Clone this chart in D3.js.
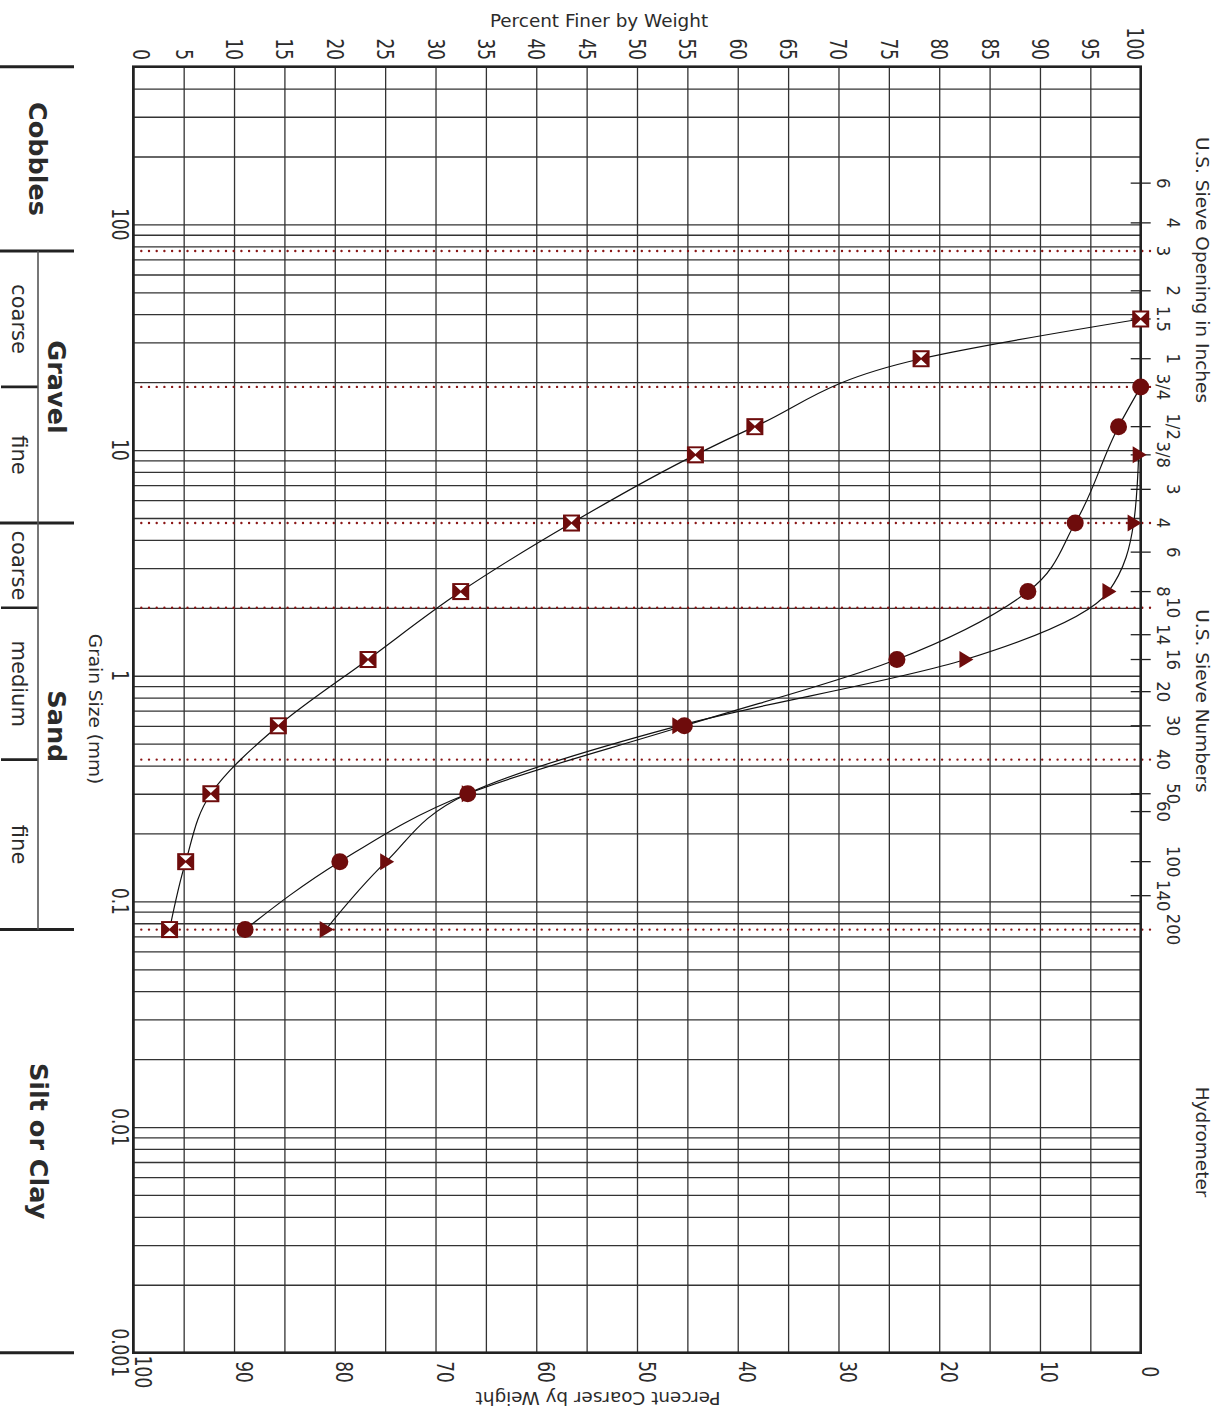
<!DOCTYPE html>
<html>
<head>
<meta charset="utf-8">
<script src="https://cdn.jsdelivr.net/npm/d3@7"></script>
<style>
  body { margin: 0; background: #fff; }
  text { font-family: "DejaVu Sans", Verdana, sans-serif; fill: #2b2b2b; }
</style>
</head>
<body>
<div id="chart"></div>
<script>
// Canvas and plot frame
const width = 1226;
const height = 1414;
const margin = {left: 133.3, right: 85.3, top: 66.7, bottom: 61.3};
const L = margin.left, R = width - margin.right;
const T = margin.top, B = height - margin.bottom;
const red = "#6e0c0c";

// Axis ticks / labels
const finerTicks = [0, 5, 10, 15, 20, 25, 30, 35, 40, 45, 50, 55, 60, 65, 70, 75, 80, 85, 90, 95, 100];
const coarserTicks = [100, 90, 80, 70, 60, 50, 40, 30, 20, 10, 0];
const grainTicks = [100, 10, 1, 0.1, 0.01, 0.001];
const grainTickLabels = ["100", "10", "1", "0.1", "0.01", "0.001"];

// U.S. sieve openings (mm) and their labels on the right edge
const sieveLabels = ["6", "4", "3", "2", "1.5", "1", "3/4", "1/2", "3/8",
  "3", "4", "6", "8", "10", "14", "16", "20", "30", "40", "50", "60", "100", "140", "200"];
const sieveSizes = [152.4, 101.6, 76.2, 50.8, 38.1, 25.4, 19.05, 12.7, 9.525,
  6.7, 4.75, 3.53, 2.36, 2.0, 1.52, 1.18, 0.85, 0.6, 0.425, 0.3, 0.25, 0.15, 0.106, 0.075];

// boundaries between soil classes (dotted red lines)
const boundarySizes = [76.2, 19.05, 4.75, 2.0, 0.425, 0.075];

// Soil classification band on the left
const classNames = ["Cobbles", "Gravel", "Sand", "Silt or Clay"];
const classBounds = [500, 76.2, 4.75, 0.075, 0.001];
const subNames = ["coarse", "fine", "coarse", "medium", "fine"];
const subBounds = [[76.2, 19.05], [19.05, 4.75], [4.75, 2.0], [2.0, 0.425], [0.425, 0.075]];

// Test results: grain size (mm) vs percent finer
const squareSizes = [38.1, 25.4, 12.7, 9.525, 4.75, 2.36, 1.18, 0.6, 0.3, 0.15, 0.075];
const squareFiner = [100, 78.2, 61.7, 55.8, 43.5, 32.5, 23.3, 14.4, 7.7, 5.2, 3.6];
const circleSizes = [19.05, 12.7, 4.75, 2.36, 1.18, 0.6, 0.3, 0.15, 0.075];
const circleFiner = [100, 97.8, 93.5, 88.8, 75.8, 54.7, 33.2, 20.5, 11.1];
const triangleSizes = [9.525, 4.75, 2.36, 1.18, 0.6, 0.3, 0.15, 0.075];
const triangleFiner = [99.8, 99.3, 96.8, 82.6, 54.1, 33.2, 25.1, 19.1];

const svg = d3.select("#chart")
  .append("svg")
  .attr("width", width)
  .attr("height", height);

// Scales
const x = d3.scaleLinear().domain([0, 100]).range([L, R]);
const xCoarser = d3.scaleLinear().domain([100, 0]).range([L, R]);
const y = d3.scaleLog().domain([500, 0.001]).range([T, B]);

// rotated text helper (reads top to bottom)
function vtext(g, px, py, str, size, anchor, weight, sy) {
  return g.append("text")
    .attr("transform", `translate(${px},${py}) rotate(90) scale(1,${sy || 1})`)
    .attr("text-anchor", anchor)
    .attr("font-size", size)
    .attr("font-weight", weight || "normal")
    .text(str);
}

/* Grid */
svg.append("g")
  .attr("transform", `translate(${L},0)`)
  .call(d3.axisLeft(y).tickValues(y.ticks()).tickSize(-(R - L)).tickFormat(""))
  .call(g => g.select(".domain").remove())
  .call(g => g.selectAll("line").attr("stroke", "#333").attr("stroke-width", 1.3));

svg.append("g")
  .attr("transform", `translate(0,${T})`)
  .call(d3.axisTop(x).tickValues(finerTicks).tickSize(-(B - T)).tickFormat(""))
  .call(g => g.select(".domain").remove())
  .call(g => g.selectAll("line").attr("stroke", "#333").attr("stroke-width", 1.3));

// class boundary dotted lines
svg.append("g").selectAll("line")
  .data(boundarySizes)
  .enter().append("line")
  .attr("x1", L + 8).attr("x2", R + 11)
  .attr("y1", d => y(d)).attr("y2", d => y(d))
  .attr("stroke", "#8a1616")
  .attr("stroke-width", 2.4)
  .attr("stroke-linecap", "round")
  .attr("stroke-dasharray", "0 7.7");

// frame
svg.append("rect")
  .attr("x", L).attr("y", T)
  .attr("width", R - L).attr("height", B - T)
  .attr("fill", "none")
  .attr("stroke", "#222")
  .attr("stroke-width", 2.6);

/* Axis labels */
const labels = svg.append("g");

// top: percent finer
finerTicks.forEach(v => {
  let off = -8;
  if (v === 0) off = -0.6;
  if (v === 100) off = -14;
  vtext(labels, x(v) + off, 60, String(v), 17, "end", "normal", 1.3);
});
labels.append("text")
  .attr("x", 599).attr("y", 27)
  .attr("text-anchor", "middle")
  .attr("font-size", 18.4)
  .text("Percent Finer by Weight");

// bottom: percent coarser
coarserTicks.forEach(v => {
  vtext(labels, xCoarser(v) + 1.5, 1372, String(v), 17, "middle", "normal", 1.3);
});
labels.append("text")
  .attr("transform", `translate(598,1392) rotate(180)`)
  .attr("text-anchor", "middle")
  .attr("font-size", 18.4)
  .text("Percent Coarser by Weight");

// left: grain size
grainTicks.forEach((v, i) => {
  vtext(labels, 112, y(v), grainTickLabels[i], 17, "middle", "normal", 1.3);
});
vtext(labels, 89, 709, "Grain Size (mm)", 18.5, "middle");

// right: sieve ticks and labels
svg.append("g").selectAll("line")
  .data(sieveSizes.filter(d => boundarySizes.indexOf(d) < 0))
  .enter().append("line")
  .attr("x1", R - 10).attr("x2", R + 10)
  .attr("y1", d => y(d)).attr("y2", d => y(d))
  .attr("stroke", "#222")
  .attr("stroke-width", 1.3);

sieveSizes.forEach((d, i) => {
  vtext(labels, i % 2 === 0 ? 1157 : 1167, y(d), sieveLabels[i], 16.5, "middle", "normal", 1.08);
});
vtext(labels, 1196, 270, "U.S. Sieve Opening in Inches", 18.5, "middle");
vtext(labels, 1196, 701, "U.S. Sieve Numbers", 18.5, "middle");
vtext(labels, 1196, 1142, "Hydrometer", 18.5, "middle");

/* Soil classification band */
const band = svg.append("g");
band.selectAll("line.major")
  .data(classBounds)
  .enter().append("line")
  .attr("class", "major")
  .attr("x1", 0).attr("x2", 74)
  .attr("y1", d => y(d)).attr("y2", d => y(d))
  .attr("stroke", "#222")
  .attr("stroke-width", 3);
band.selectAll("line.minor")
  .data([19.05, 2.0, 0.425])
  .enter().append("line")
  .attr("class", "minor")
  .attr("x1", 1).attr("x2", 38)
  .attr("y1", d => y(d)).attr("y2", d => y(d))
  .attr("stroke", "#222")
  .attr("stroke-width", 2.6);
band.append("line")
  .attr("x1", 38).attr("x2", 38)
  .attr("y1", y(76.2)).attr("y2", y(0.075))
  .attr("stroke", "#555")
  .attr("stroke-width", 1.6);

const classX = [29, 48, 48, 30];
classNames.forEach((n, i) => {
  const yc = (y(classBounds[i]) + y(classBounds[i + 1])) / 2;
  vtext(band, classX[i], yc, n, 25.5, "middle", "bold");
});
subNames.forEach((n, i) => {
  const yc = (y(subBounds[i][0]) + y(subBounds[i][1])) / 2;
  vtext(band, 12, yc, n, 21, "middle");
});

/* Curves */
const line = d3.line()
  .x(d => x(d.p))
  .y(d => y(d.s))
  .curve(d3.curveMonotoneY);

const squares = squareSizes.map((s, i) => ({s: s, p: squareFiner[i]}));
const circles = circleSizes.map((s, i) => ({s: s, p: circleFiner[i]}));
const triangles = triangleSizes.map((s, i) => ({s: s, p: triangleFiner[i]}));

[squares, triangles, circles].forEach(data => {
  svg.append("path")
    .datum(data)
    .attr("d", line)
    .attr("fill", "none")
    .attr("stroke", "#111")
    .attr("stroke-width", 1.2);
});

// square markers with hourglass cut-out
const sq = svg.append("g").selectAll("g")
  .data(squares)
  .enter().append("g")
  .attr("transform", d => `translate(${x(d.p)},${y(d.s)})`);
sq.append("rect")
  .attr("x", -8.5).attr("y", -8.5)
  .attr("width", 17).attr("height", 17)
  .attr("fill", red);
sq.append("path")
  .attr("d", "M-6,-6.5L6,-6.5L0,-0.8Z M-6,6.5L6,6.5L0,0.8Z")
  .attr("fill", "#fff");

// triangle markers
svg.append("g").selectAll("path")
  .data(triangles)
  .enter().append("path")
  .attr("transform", d => `translate(${x(d.p)},${y(d.s)})`)
  .attr("d", "M-6,-8.5L8,0L-6,8.5Z")
  .attr("fill", red);

// circle markers
svg.append("g").selectAll("circle")
  .data(circles)
  .enter().append("circle")
  .attr("cx", d => x(d.p))
  .attr("cy", d => y(d.s))
  .attr("r", 8.5)
  .attr("fill", red);
</script>
</body>
</html>
